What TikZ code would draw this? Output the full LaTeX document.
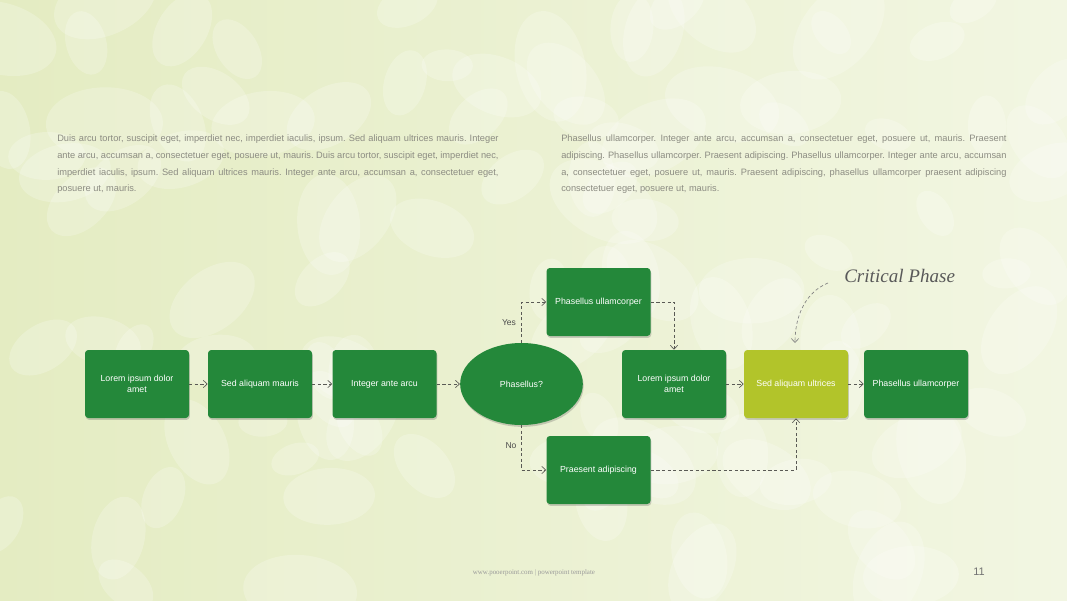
\documentclass[tikz,border=0pt]{standalone}
\usepackage{fontspec}
\setmainfont{Liberation Sans}
\newfontfamily\critfont{Liberation Serif}
\usetikzlibrary{shapes.geometric,arrows.meta,shadows}
\definecolor{boxgreen}{HTML}{24883A}
\definecolor{limegreen}{HTML}{B2C42A}
\definecolor{bgA}{HTML}{E4ECC2}
\definecolor{bgB}{HTML}{F2F6E2}
\definecolor{partext}{HTML}{8C8C82}
\definecolor{connc}{HTML}{5A5A55}
\frenchspacing
\hyphenpenalty=10000
\exhyphenpenalty=10000
\tolerance=9999
\begin{document}
\begin{tikzpicture}[x=0.75pt,y=-0.75pt,
  box/.style={rectangle, rounded corners=2.5pt, fill=boxgreen, minimum width=78pt, minimum height=51pt,
    inner sep=2pt, align=center, font=\fontsize{6.6}{8.2}\selectfont, text=white,
    drop shadow={shadow xshift=0.6pt, shadow yshift=-1.4pt, opacity=0.25, fill=black!70}},
  ebox/.style={ellipse, fill=boxgreen, minimum width=92pt, minimum height=61.5pt, inner sep=0pt,
    font=\fontsize{6.6}{8.2}\selectfont, text=white,
    drop shadow={shadow xshift=0.6pt, shadow yshift=-1.4pt, opacity=0.25, fill=black!70}},
  conn/.style={draw=connc, line width=0.5pt, dash pattern=on 2.4pt off 1.8pt,
    -{Straight Barb[length=3pt,width=5.5pt]}},
  para/.style={anchor=north west, inner sep=0pt, text width=331pt, align=justify,
    font=\fontsize{6.95}{12.4}\selectfont, text=partext},
  lbl/.style={font=\fontsize{6.4}{7}\selectfont, text=black!70}
]
\useasboundingbox (0,0) rectangle (1067,600);
% background
\shade[left color=bgA, right color=bgB] (0,0) rectangle (1067,600);
\pgfmathsetseed{11}
\begin{scope}
\clip (0,0) rectangle (1067,600);
\foreach \i in {1,...,110}{
  \pgfmathsetmacro\px{rnd*1067}
  \pgfmathsetmacro\py{rnd*600}
  \pgfmathsetmacro\ang{rnd*180}
  \pgfmathsetmacro\sz{18+rnd*26}
  \fill[white, opacity=0.22, rotate around={\ang:(\px,\py)}] (\px,\py) ellipse ({\sz pt} and {0.62*\sz pt});
}
\end{scope}
% paragraphs
\node[para] (p1) at (57,135) {Duis arcu tortor, suscipit eget, imperdiet nec, imperdiet iaculis, ipsum. Sed aliquam ultrices mauris. Integer ante arcu, accumsan a, consectetuer eget, posuere ut, mauris. Duis arcu tortor, suscipit eget, imperdiet nec, imperdiet iaculis, ipsum. Sed aliquam ultrices mauris. Integer ante arcu, accumsan a, consectetuer eget, posuere ut, mauris.};
\node[para, text width=334pt] (p2) at (561,135) {Phasellus ullamcorper. Integer ante arcu, accumsan a, consectetuer eget, posuere ut, mauris. Praesent adipiscing. Phasellus ullamcorper. Praesent adipiscing. Phasellus ullamcorper. Integer ante arcu, accumsan a, consectetuer eget, posuere ut, mauris. Praesent adipiscing, phasellus ullamcorper praesent adipiscing consectetuer eget, posuere ut, mauris.};
% nodes
\node[box] (b1) at (137,384) {Lorem ipsum dolor\\amet};
\node[box] (b2) at (260,384) {Sed aliquam mauris};
\node[box] (b3) at (384.5,384) {Integer ante arcu};
\node[ebox] (e) at (521.5,384) {Phasellus?};
\node[box] (t) at (598.5,302) {Phasellus ullamcorper};
\node[box] (bt) at (598.5,470) {Praesent adipiscing};
\node[box] (l2) at (674,384) {Lorem ipsum dolor\\amet};
\node[box, fill=limegreen] (y) at (796,384) {Sed aliquam ultrices};
\node[box] (last) at (916,384) {Phasellus ullamcorper};
% connectors
\draw[conn] (b1) -- (b2);
\draw[conn] (b2) -- (b3);
\draw[conn] (b3) -- (e);
\draw[conn] (e.north) |- (t.west);
\draw[conn] (e.south) |- (bt.west);
\draw[conn] (t.east) -| (l2.north);
\draw[conn] (bt.east) -| (y.south);
\draw[conn] (l2) -- (y);
\draw[conn] (y) -- (last);
\node[lbl] (yes) at (509,323) {Yes};
\node[lbl] (no) at (511,446) {No};
% critical phase
\node[font=\critfont\itshape\fontsize{14.3}{16}\selectfont, text=black!65, anchor=west, inner sep=0pt] (cp) at (844,276) {Critical Phase};
\coordinate (cs) at (828,283);
\coordinate (ce) at (795,343);
\draw[conn, draw=black!50] (cs) .. controls (806,292) and (795,315) .. (ce);
% footer
\node[font=\critfont\fontsize{5.2}{6}\selectfont, text=black!40] (ft) at (534,573) {www.pooerpoint.com | powerpoint template};
\node[font=\fontsize{8.2}{9}\selectfont, text=black!55] (pg) at (979,572) {11};
\end{tikzpicture}
\end{document}
